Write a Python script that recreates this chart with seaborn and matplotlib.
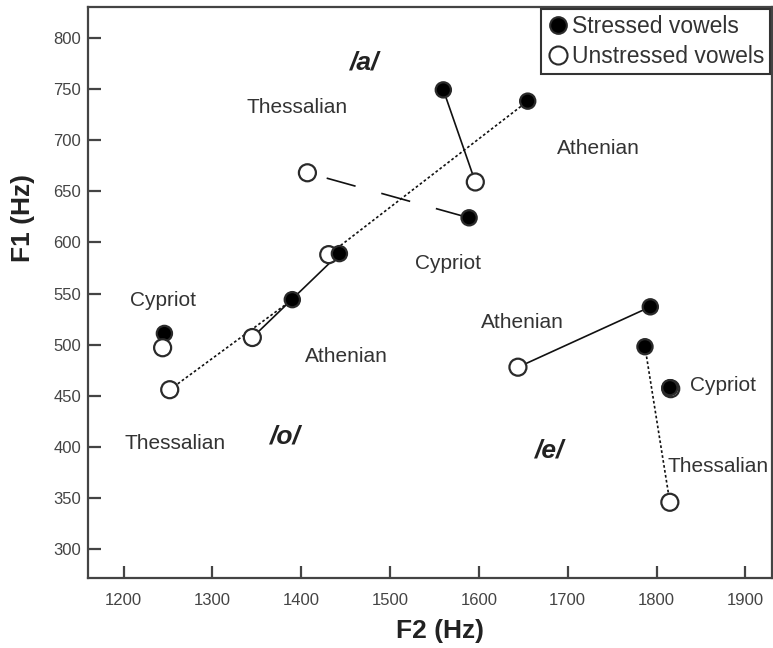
import pandas as pd
import seaborn as sns
import matplotlib
matplotlib.use("Agg")
import matplotlib.pyplot as plt
from matplotlib.lines import Line2D

# data #
dialects = ["Athenian", "Thessalian", "Cypriot"] * 3
vowels = ["a"] * 3 + ["o"] * 3 + ["e"] * 3
f2_stressed = [1560, 1655, 1589, 1443, 1390, 1246, 1793, 1787, 1815]
f1_stressed = [749, 738, 624, 589, 544, 511, 537, 498, 458]
f2_unstressed = [1596, 1431, 1407, 1345, 1252, 1244, 1644, 1815, 1816]
f1_unstressed = [659, 588, 668, 507, 456, 497, 478, 346, 457]

label_text = ["Thessalian", "Athenian", "Cypriot", "Cypriot", "Athenian",
              "Thessalian", "Athenian", "Cypriot", "Thessalian"]
label_f2 = [1395, 1734, 1565, 1244, 1451, 1258, 1649, 1875, 1869]
label_f1 = [732, 692, 579, 543, 488, 403, 522, 460, 381]

vowel_text = ["/a/", "/o/", "/e/"]
vowel_f2 = [1472, 1382, 1680]
vowel_f1 = [776, 410, 397]

x_ticks = [1200, 1300, 1400, 1500, 1600, 1700, 1800, 1900]
y_ticks = [300, 350, 400, 450, 500, 550, 600, 650, 700, 750, 800]

# frame #
stressed = pd.DataFrame({"dialect": dialects, "vowel": vowels,
                         "F2": f2_stressed, "F1": f1_stressed,
                         "stress": "Stressed vowels"})
unstressed = pd.DataFrame({"dialect": dialects, "vowel": vowels,
                           "F2": f2_unstressed, "F1": f1_unstressed,
                           "stress": "Unstressed vowels"})
df = pd.concat([stressed, unstressed], ignore_index=True)
# drawing order: open circles under filled ones, except cypriot /o/
df["layer"] = (df["stress"] == "Stressed vowels").astype(int)
df.loc[(df["stress"] == "Unstressed vowels") & (df["dialect"] == "Cypriot")
       & (df["vowel"] == "o"), "layer"] = 2
df = df.sort_values("layer", kind="stable")

sns.set_style("white")
plt.rcParams["font.family"] = ["Liberation Sans", "DejaVu Sans"]

fig = plt.figure(figsize=(7.73, 6.48), dpi=100)
ax = fig.add_axes([88 / 773, 1 - 578 / 648, (772 - 88) / 773, (578 - 7) / 648])

line_styles = {"Athenian": "-", "Thessalian": (0, (1.6, 1.4)),
               "Cypriot": (22, (18, 16))}
for i in range(len(dialects)):
    ax.plot([f2_unstressed[i], f2_stressed[i]], [f1_unstressed[i], f1_stressed[i]],
            color="#111111", lw=1.2, ls=line_styles[dialects[i]], zorder=1)

sns.scatterplot(data=df, x="F2", y="F1", hue="stress", size="stress",
                palette={"Stressed vowels": "black", "Unstressed vowels": "white"},
                sizes={"Stressed vowels": 120, "Unstressed vowels": 150},
                edgecolor="#2a2a2a", linewidth=1.6, legend=False, ax=ax, zorder=3)

for t, x, y in zip(label_text, label_f2, label_f1):
    ax.text(x, y, t, ha="center", va="center", fontsize=15, color="#333333")
for t, x, y in zip(vowel_text, vowel_f2, vowel_f1):
    ax.text(x, y, t, ha="center", va="center", fontsize=19, color="#222222",
            fontweight="bold", fontstyle="italic")

ax.set_xlim(1160, 1930)
ax.set_ylim(272, 830)
ax.set_xticks(x_ticks)
ax.set_yticks(y_ticks)
ax.tick_params(bottom=True, left=True, direction="in", length=9, width=1.6,
               color="#444444", labelsize=12, labelcolor="#444444")
ax.tick_params(axis="x", pad=11)
ax.tick_params(axis="y", pad=5)
for sp in ax.spines.values():
    sp.set_color("#444444")
    sp.set_linewidth(1.6)

ax.set_xlabel("F2 (Hz)", fontsize=19, fontweight="bold", color="#222222")
ax.set_ylabel("F1 (Hz)", fontsize=19, fontweight="bold", color="#222222")
ax.xaxis.set_label_coords(0.515, -0.072)
ax.yaxis.set_label_coords(-0.077, 0.63)

handles = [Line2D([], [], marker="o", ls="none", markerfacecolor="black",
                  markeredgecolor="#2a2a2a", markersize=12, markeredgewidth=1.5),
           Line2D([], [], marker="o", ls="none", markerfacecolor="white",
                  markeredgecolor="#2a2a2a", markersize=13, markeredgewidth=1.5)]
leg = ax.legend(handles, ["Stressed vowels", "Unstressed vowels"], loc="upper right",
                borderaxespad=0.1, fancybox=False, framealpha=1, edgecolor="#333333",
                fontsize=16.5, handletextpad=0.1, borderpad=0.25, labelspacing=0.3,
                handlelength=1.0)
leg.get_frame().set_linewidth(1.5)
for t in leg.get_texts():
    t.set_color("#333333")

fig.savefig("out.png", dpi=100)
